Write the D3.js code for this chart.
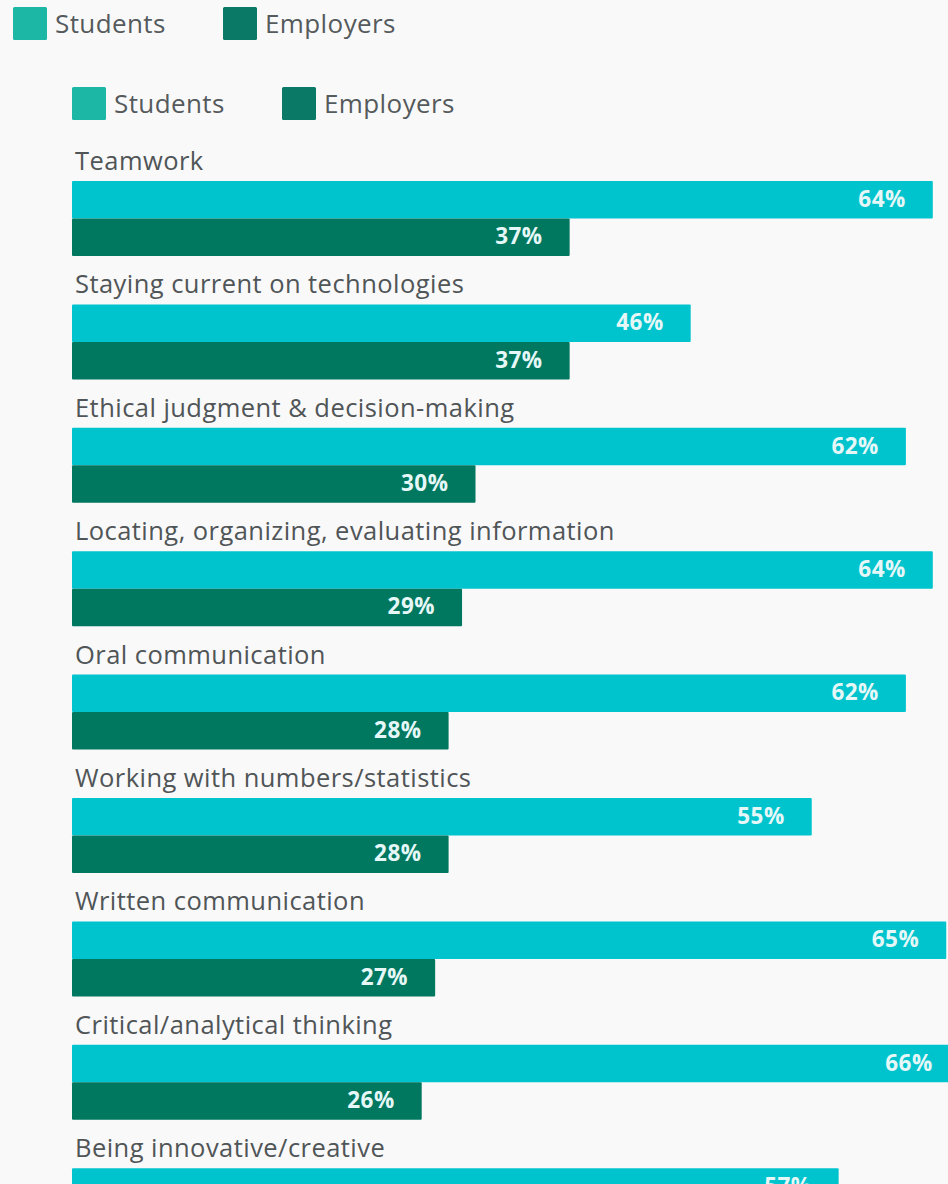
<!DOCTYPE html>
<html>
<head>
<meta charset="utf-8">
<script src="https://cdn.jsdelivr.net/npm/d3@7"></script>
<style>
  html, body { margin: 0; padding: 0; background: #f9f9fa; }
  svg { display: block; }
</style>
</head>
<body>
<svg id="chart" width="948" height="1184"></svg>
<script>
// Skills: share rating recent graduates as well prepared
const skills = [
  "Teamwork",
  "Staying current on technologies",
  "Ethical judgment & decision-making",
  "Locating, organizing, evaluating information",
  "Oral communication",
  "Working with numbers/statistics",
  "Written communication",
  "Critical/analytical thinking",
  "Being innovative/creative"
];
const studentValues  = [64, 46, 62, 64, 62, 55, 65, 66, 57];
const employerValues = [37, 37, 30, 29, 28, 28, 27, 26, null];
const seriesNames = ["Students", "Employers"];
const barColors    = ["#00c4cd", "#00775f"];
const legendColors = ["#1db8a5", "#0a7a66"];

const FONT = "'Open Sans', Lato, sans-serif";

const svg = d3.select("#chart");
const W = 948, H = 1184;

svg.append("rect").attr("width", W).attr("height", H).attr("fill", "#f9f9fa");

const rows = skills.map((s, i) => ({
  skill: s,
  values: [studentValues[i], employerValues[i]]
}));

// Scales
const x = d3.scaleLinear().domain([0, 100]).range([72, 72 + 1345]);
const step = 123.4;
const y = d3.scaleBand()
  .domain(skills)
  .range([181, 181 + step * skills.length])
  .paddingInner(0).paddingOuter(0);
const ySeries = d3.scaleBand().domain(seriesNames).range([0, 75]).padding(0);
const color = d3.scaleOrdinal().domain(seriesNames).range(barColors);
const legendColor = d3.scaleOrdinal().domain(seriesNames).range(legendColors);

// Legend (drawn at the page header and again above the chart)
function drawLegend(g) {
  const item = g.selectAll("g.item")
    .data(seriesNames)
    .join("g")
    .attr("class", "item")
    .attr("transform", (d, i) => `translate(${i * 210},0)`);
  item.append("rect")
    .attr("width", 34).attr("height", 33).attr("rx", 1.5)
    .attr("fill", d => legendColor(d));
  item.append("text")
    .attr("x", 42).attr("y", 26)
    .attr("font-family", FONT)
    .attr("font-size", 26)
    .attr("letter-spacing", 0.4)
    .attr("fill", "#555a5c")
    .text(d => d);
}
drawLegend(svg.append("g").attr("transform", "translate(13,7)"));
drawLegend(svg.append("g").attr("transform", "translate(72,87)"));

// Category groups
const group = svg.append("g").selectAll("g.row")
  .data(rows)
  .join("g")
  .attr("class", "row")
  .attr("transform", d => `translate(0,${y(d.skill)})`);

group.append("text")
  .attr("x", 75).attr("y", -11)
  .attr("font-family", FONT)
  .attr("font-size", 25.5)
  .attr("letter-spacing", 0.45)
  .attr("fill", "#505557")
  .text(d => d.skill);

const bars = group.selectAll("g.bar")
  .data(d => d.values.map((v, i) => ({ series: seriesNames[i], value: v })).filter(e => e.value != null))
  .join("g")
  .attr("class", "bar");

bars.append("rect")
  .attr("x", x(0))
  .attr("y", d => ySeries(d.series))
  .attr("width", d => x(d.value) - x(0))
  .attr("height", ySeries.bandwidth())
  .attr("rx", 1)
  .attr("fill", d => color(d.series));

bars.append("text")
  .attr("x", d => x(d.value) - 27)
  .attr("y", d => ySeries(d.series) + ySeries.bandwidth() / 2 + 1)
  .attr("dominant-baseline", "middle")
  .attr("text-anchor", "end")
  .attr("font-family", FONT)
  .attr("font-weight", 700)
  .attr("font-size", 22.5)
  .attr("letter-spacing", 0.5)
  .attr("fill", "#e6f7f8")
  .text(d => d.value + "%");
</script>
</body>
</html>
